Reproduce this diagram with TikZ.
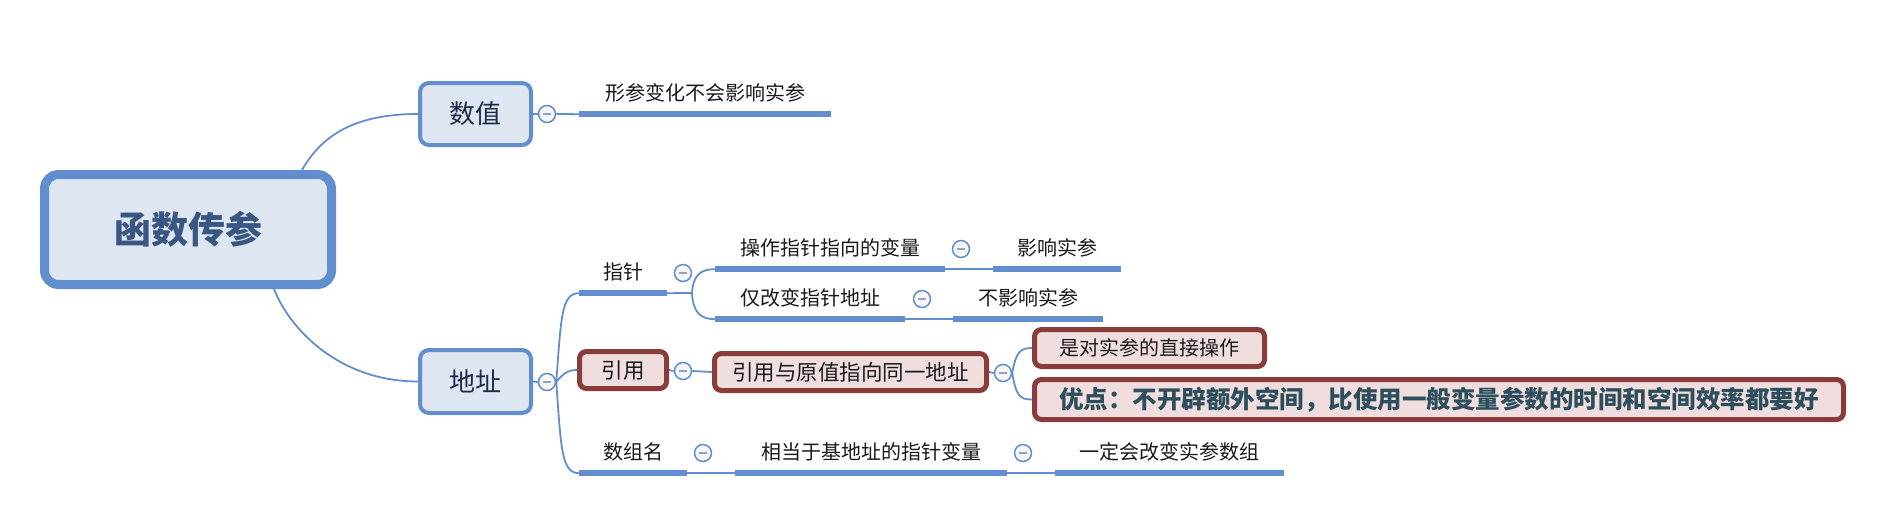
\documentclass[tikz,border=0pt]{standalone}
\usepackage{fontspec}
\newfontfamily\cjk{Noto Sans CJK SC}
\pgfdeclarelayer{bg}
\pgfsetlayers{bg,main}
\definecolor{xblue}{RGB}{98,142,206}
\definecolor{xfill}{RGB}{222,230,241}
\definecolor{xbrown}{RGB}{138,60,58}
\definecolor{xpink}{RGB}{240,222,222}
\definecolor{xnavy}{RGB}{28,42,72}
\definecolor{xroot}{RGB}{58,86,130}
\definecolor{xteal}{RGB}{45,78,92}
\definecolor{xmin}{RGB}{150,160,195}
\definecolor{xcirc}{RGB}{246,246,251}
\tikzset{
 conn/.style={draw=xblue, line width=1.8},
 uline/.style={draw=xblue, line width=6},
 rootbox/.style={draw=xblue, fill=xfill, line width=9, rounded corners=14, inner sep=0,
   minimum width=287, minimum height=110, text=xroot, font=\cjk\bfseries\fontsize{37}{42}\selectfont},
 bluebox/.style={draw=xblue, fill=xfill, line width=4, rounded corners=9, inner sep=0,
   text=xnavy, font=\cjk\fontsize{26}{30}\selectfont},
 brownbox/.style={draw=xbrown, fill=xpink, line width=5, rounded corners=7, inner sep=0,
   text=black!90, font=\cjk\fontsize{21.5}{26}\selectfont},
 utopic/.style={minimum height=42, inner sep=0, font=\cjk\fontsize{20}{24}\selectfont, text=black!90},
 fold/.style={circle, draw=xblue, fill=xcirc, line width=1.5, minimum size=17, inner sep=0,
   path picture={\draw[xmin, line width=2] ([xshift=-4]path picture bounding box.center) -- ([xshift=4]path picture bounding box.center);}},
}
\begin{document}
\begin{tikzpicture}[x=1pt,y=-1pt]
\useasboundingbox (0,0) rectangle (1892,506);
% root and main topics
\node[rootbox] (root) at (188,229.5) {函数传参};
\node[bluebox, minimum width=111, minimum height=62] (sz) at (475.5,114) {数值};
\node[fold] (f1) at (547,114) {};
\node[utopic, minimum width=252] (t1) at (705,93) {形参变化不会影响实参};
\node[bluebox, minimum width=111, minimum height=63] (dz) at (475.5,381.5) {地址};
\node[fold] (f2) at (547,382) {};
% pointer branch
\node[utopic, minimum width=88] (zz) at (623,272) {指针};
\node[fold] (f3) at (683,273) {};
\coordinate (k1) at (692,293);
\node[utopic, minimum width=230] (cz) at (830,248) {操作指针指向的变量};
\node[fold] (f4) at (961,249) {};
\node[utopic, minimum width=128] (yx) at (1057,248) {影响实参};
\node[utopic, minimum width=190] (jg) at (810,298) {仅改变指针地址};
\node[fold] (f5) at (922,299) {};
\node[utopic, minimum width=150] (byx) at (1028,298) {不影响实参};
% reference branch
\node[brownbox, minimum width=87, minimum height=37] (yy) at (623,370) {引用};
\node[fold] (f6) at (683,371) {};
\node[brownbox, minimum width=272, minimum height=37] (yyy) at (850.5,372) {引用与原值指向同一地址};
\node[fold] (f7) at (1003,373) {};
\node[brownbox, minimum width=230, minimum height=37, font=\cjk\fontsize{20}{24}\selectfont] (sd) at (1149.5,348) {是对实参的直接操作};
\node[brownbox, minimum width=809, minimum height=40, text=xteal, font=\cjk\bfseries\fontsize{24.5}{28}\selectfont] (yd) at (1439,399.5) {优点：不开辟额外空间，比使用一般变量参数的时间和空间效率都要好};
% array branch
\node[utopic, minimum width=108] (szm) at (633,452) {数组名};
\node[fold] (f8) at (703,453) {};
\node[utopic, minimum width=272] (xd) at (871,452) {相当于基地址的指针变量};
\node[fold] (f9) at (1023,453) {};
\node[utopic, minimum width=229] (yd2) at (1169.5,452) {一定会改变实参数组};
% underlines
\foreach \n in {t1,zz,cz,yx,jg,byx,szm,xd,yd2}
  \draw[uline] (\n.south west) -- (\n.south east);
\begin{pgfonlayer}{bg}
\draw[conn] ([xshift=114]root.north) .. controls (322,135) and (355,114) .. (sz.west);
\draw[conn] ([xshift=86]root.south) .. controls (290,330) and (340,381.5) .. (dz.west);
\draw[conn] (sz.east) -- (f1.west);
\draw[conn] (f1.east) -- (t1.south west);
\draw[conn] (dz.east) -- (f2.west);
\draw[conn] (f2.east) .. controls (561,320) and (561,293) .. (zz.south west);
\draw[conn] (f2.east) .. controls (561,446) and (561,473) .. (szm.south west);
\draw[conn] (f2.east) .. controls (563,374) and (567,370) .. (yy.west);
\draw[conn] (zz.south east) -- (k1);
\draw[conn] (k1) .. controls (693,276) and (700,269) .. (cz.south west);
\draw[conn] (k1) .. controls (693,312) and (700,319) .. (jg.south west);
\draw[conn] (cz.south east) -- (yx.south west);
\draw[conn] (jg.south east) -- (byx.south west);
\draw[conn] (yy.east) -- (f6.west);
\draw[conn] (f6.east) -- (yyy.west);
\draw[conn] (yyy.east) -- (f7.west);
\draw[conn] (f7.east) .. controls (1016,352) and (1020,348) .. (sd.west);
\draw[conn] (f7.east) .. controls (1016,396) and (1020,399.5) .. (yd.west);
\draw[conn] (szm.south east) -- (xd.south west);
\draw[conn] (xd.south east) -- (yd2.south west);
\end{pgfonlayer}
\end{tikzpicture}
\end{document}
